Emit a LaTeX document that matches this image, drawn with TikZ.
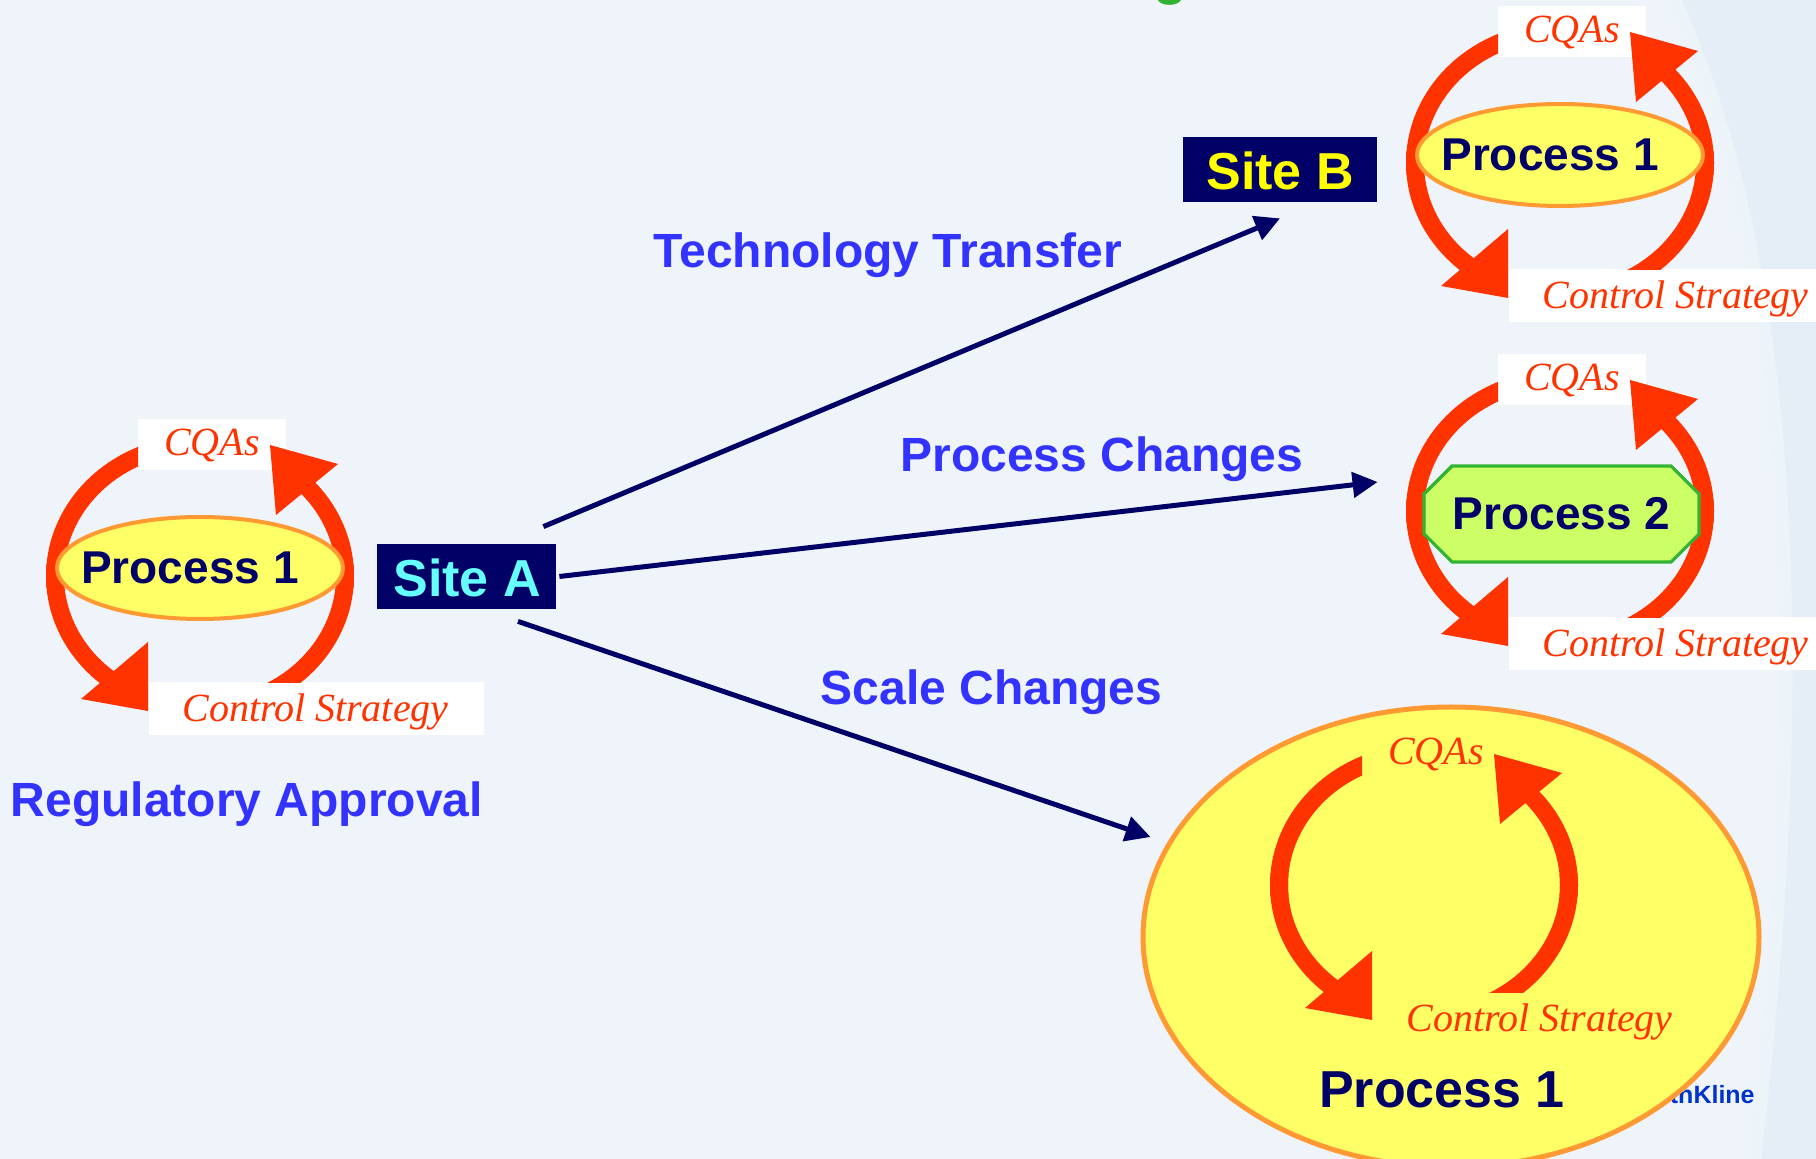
\documentclass[tikz,border=0pt]{standalone}
\usepackage{fontspec}
\newfontfamily\arialf{Liberation Sans}
\newfontfamily\timesf{Liberation Serif}
\usetikzlibrary{arrows.meta,shapes.geometric,calc}
\definecolor{bg}{RGB}{239,244,250}
\definecolor{bgR}{RGB}{229,238,246}
\definecolor{bgL}{RGB}{236,243,249}
\definecolor{navy}{RGB}{0,0,102}
\definecolor{lblblue}{RGB}{51,51,255}
\definecolor{ringred}{RGB}{255,51,0}
\definecolor{pyellow}{RGB}{255,255,102}
\definecolor{porange}{RGB}{255,153,51}
\definecolor{plime}{RGB}{204,255,102}
\definecolor{pgreen}{RGB}{51,179,51}
\definecolor{sitecyan}{RGB}{102,255,255}
\definecolor{siteyellow}{RGB}{255,255,0}
\definecolor{gskblue}{RGB}{0,51,204}
\tikzset{
 lbl/.style={font=\arialf\bfseries\fontsize{24pt}{28pt}\selectfont, text=lblblue, inner sep=0pt, anchor=base},
 proc/.style={font=\arialf\bfseries\fontsize{23pt}{27pt}\selectfont, text=navy, inner sep=0pt, anchor=base},
 bigproc/.style={font=\arialf\bfseries\fontsize{26pt}{30pt}\selectfont, text=navy, inner sep=0pt, anchor=base},
 sitebox/.style={fill=navy, inner sep=0pt, minimum height=32.5pt},
 sitetxt/.style={font=\arialf\bfseries\fontsize{26pt}{30pt}\selectfont, inner sep=0pt, anchor=base},
 cyctxt/.style={font=\timesf\itshape\fontsize{20pt}{23pt}\selectfont, text=ringred, inner sep=0pt, anchor=base},
 ringline/.style={draw=ringred, line width=9pt},
 procell/.style={ellipse, draw=porange, line width=2pt, fill=pyellow, inner sep=0pt},
 conn/.style={draw=navy, line width=2.5pt, -{Triangle[length=12.5pt,width=12.5pt]}},
}
\newcommand\ringcycle[3]{%
\begin{scope}[shift={#1}]
 \node[fill=#3, inner sep=0pt, minimum width=74pt, minimum height=25.5pt] (#2qbox) at (12,-123.5) {};
 \node[fill=#3, inner sep=0pt, minimum width=167.5pt, minimum height=26.5pt] (#2cbox) at (116.5,140.5) {};
 \begin{scope}
  \clip (-200,-200) rectangle (-62,30);
  \draw[ringline] (0,8) ++(250:145 and 132) arc[start angle=250,end angle=175,x radius=145,y radius=132];
 \end{scope}
 \draw[ringline] (0,8) ++(185:145 and 132) arc[start angle=185,end angle=124,x radius=145,y radius=132];
 \begin{scope}
  \clip (0,-30) rectangle (200,115);
  \draw[ringline] (0,8) ++(70:145 and 132) arc[start angle=70,end angle=-5,x radius=145,y radius=132];
 \end{scope}
 \draw[ringline] (0,8) ++(5:145 and 132) arc[start angle=5,end angle=-48,x radius=145,y radius=132];
 \fill[ringred] (-119,131) -- (-52,74) -- (-52,143) -- cycle;
 \fill[ringred] (70,-123) -- (138,-104) -- (76,-53) -- cycle;
 \node[cyctxt] (#2q) at (12,-112) {CQAs};
 \node[cyctxt] (#2c) at (115.5,154) {Control Strategy};
\end{scope}}
\begin{document}
\begin{tikzpicture}[x=0.5pt,y=-0.5pt]
\useasboundingbox (0,0) rectangle (1816,1159);
\clip (0,0) rectangle (1816,1159);
\fill[bg] (0,0) rectangle (1816,1159);
\fill[bgR] (1675,0) .. controls (1790,250) and (1815,650) .. (1755,1159) -- (1816,1159) -- (1816,0) -- cycle;
\draw[bgL, line width=6pt] (1675,0) .. controls (1790,250) and (1815,650) .. (1755,1159);
% partial title letter
\node[font=\arialf\bfseries\fontsize{28pt}{30pt}\selectfont, text=pgreen, anchor=base, inner sep=0pt] (titleg) at (1171,-6) {g};
% logo (mostly hidden)
\node[font=\arialf\bfseries\fontsize{12.5pt}{14pt}\selectfont, text=gskblue, anchor=base east, inner sep=0pt] (gsk) at (1755,1103) {GlaxoSmithKline};

% left cycle
\ringcycle{(200,568)}{c1}{white}
\node[procell, minimum width=143pt, minimum height=51pt] (e1) at (200,568) {};
\node[proc] (p1a) at (190,584) {Process 1};

% top-right cycle
\ringcycle{(1560,155)}{c2}{white}
\node[procell, minimum width=143pt, minimum height=51pt] (e2) at (1560,155) {};
\node[proc] (p1b) at (1550,171) {Process 1};

% middle-right cycle
\ringcycle{(1560,503)}{c3}{white}
\node[inner sep=0pt, minimum width=137.5pt, minimum height=48pt] (p2box) at (1561.5,514) {};
\draw[draw=pgreen, line width=1.6pt, fill=plime]
  (1452,466) -- (1671,466) -- (1699,494) -- (1699,534) -- (1671,562) -- (1452,562) -- (1424,534) -- (1424,494) -- cycle;
\node[proc] (p2) at (1561.5,530) {Process 2};

% big cycle
\node[procell, line width=2.5pt, minimum width=308pt, minimum height=230pt] (bigell) at (1451,937) {};
\node[bigproc] (p1c) at (1442,1107) {Process 1};
\ringcycle{(1424,877)}{c4}{none}

% sites
\node[sitebox, minimum width=89.5pt] (siteA) at (466.5,576.5) {};
\node[sitetxt, text=sitecyan] (siteAt) at (467,597) {Site A};
\node[sitebox, minimum width=97pt] (siteB) at (1280,169.5) {};
\node[sitetxt, text=siteyellow] (siteBt) at (1280,190) {Site B};

% labels
\node[lbl] (tt) at (888,268) {Technology Transfer};
\node[lbl] (pc) at (1102,472) {Process Changes};
\node[lbl] (sc) at (991.5,705) {Scale Changes};
\node[lbl] (ra) at (247,817) {Regulatory Approval};

% connectors
\draw[conn] ($(siteA.north east)+(-13,-17)$) -- ($(siteB.south)+(0,16)$);
\draw[conn] ($(siteA.east)+(3,0)$) -- ($(p2box.west)+(-46,-32)$);
\draw[conn] ($(siteA.south)+(51.5,12)$) -- ($(bigell.west)+(10,-100)$);
\end{tikzpicture}
\end{document}
